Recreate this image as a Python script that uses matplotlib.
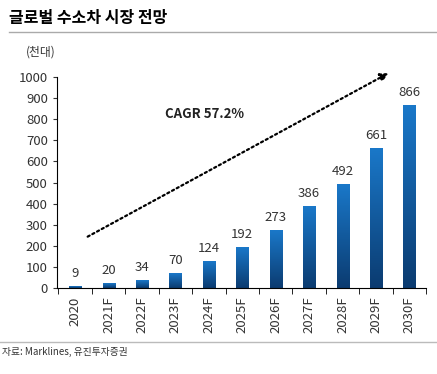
import numpy as np
import matplotlib.pyplot as plt
from matplotlib.colors import LinearSegmentedColormap

plt.rcParams['font.family'] = ['Noto Sans CJK KR', 'DejaVu Sans']

years = ['2020', '2021F', '2022F', '2023F', '2024F', '2025F', '2026F', '2027F', '2028F', '2029F', '2030F']
values = [9, 20, 34, 70, 124, 192, 273, 386, 492, 661, 866]

fig = plt.figure(figsize=(4.37, 3.74), dpi=100)
ax = fig.add_axes([0.130, 0.23, 0.845, 0.564])

x = np.arange(len(years))
w = 0.36
cmap = LinearSegmentedColormap.from_list('bl', ['#0b3b70', '#1a78c9'])
grad = np.linspace(0, 1, 256).reshape(-1, 1)
bars = ax.bar(x, values, width=w, color='none')
for b, v in zip(bars, values):
    ax.imshow(grad, cmap=cmap, aspect='auto', origin='lower',
              extent=[b.get_x(), b.get_x() + w, 0, v], zorder=2)
    ax.text(b.get_x() + w / 2, v + 30, str(v), ha='center', va='bottom',
            fontsize=9.5, color='#333333')

ax.set_xlim(-0.55, 10.5)
ax.set_ylim(0, 1000)
ax.set_yticks(range(0, 1001, 100))
ax.tick_params(axis='y', labelsize=9.5, colors='#333333', length=3)
ax.set_xticks(x)
ax.set_xticklabels(years, rotation=90, fontsize=9.5, color='#333333')
ax.set_xticks(np.arange(-0.5, 10.6, 1), minor=True)
ax.tick_params(axis='x', which='major', length=0, pad=6)
ax.tick_params(axis='x', which='minor', length=4)
for s in ['top', 'right']:
    ax.spines[s].set_visible(False)

ax.annotate('', xy=(9.45, 1025), xytext=(0.3, 237), annotation_clip=False,
            arrowprops=dict(arrowstyle='-|>', linestyle=(0, (1, 1.4)), lw=1.6,
                            color='black', mutation_scale=12))
ax.text(2.7, 805, 'CAGR 57.2%', fontsize=9.5, fontweight='bold', color='#222222')

fig.text(0.02, 0.952, '글로벌 수소차 시장 전망', fontsize=11.5, fontweight='bold', va='center')
fig.add_artist(plt.Line2D([0.02, 1.0], [0.915, 0.915], color='#aaaaaa', lw=1))
fig.text(0.06, 0.86, '(천대)', fontsize=8.5, color='#333333', va='center')
fig.add_artist(plt.Line2D([0.0, 1.0], [0.085, 0.085], color='#bbbbbb', lw=1))
fig.text(0.005, 0.058, '자료: Marklines, 유진투자증권', fontsize=7, color='#333333', va='center')

fig.savefig('out.png', dpi=100)
